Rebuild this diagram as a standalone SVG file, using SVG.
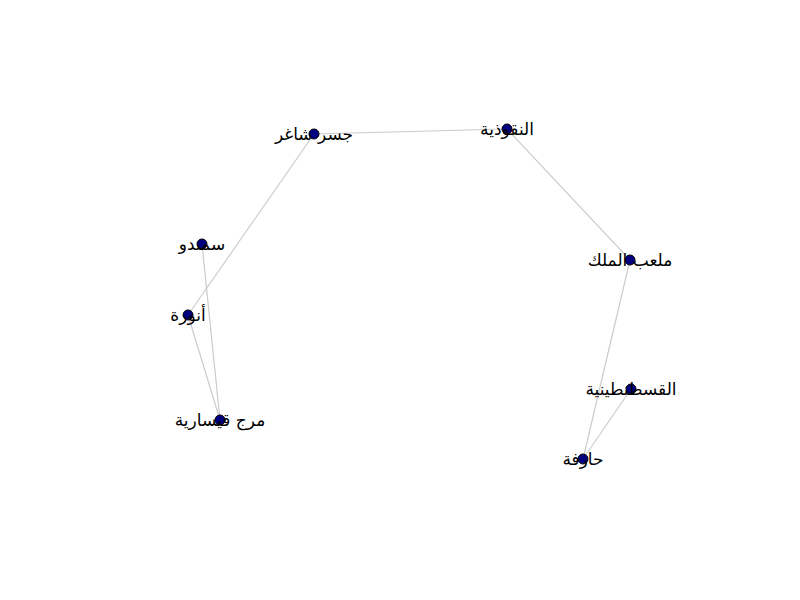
<svg xmlns="http://www.w3.org/2000/svg" width="800" height="600" viewBox="0 0 800 600">
<style>
.edge{stroke:#cccccc;stroke-width:1.2;fill:none}
.node circle{fill:#000080;stroke:#000000;stroke-width:1}
.node text{font-family:"DejaVu Sans","Noto Sans",sans-serif;font-size:17px;fill:#000000;text-anchor:middle;dominant-baseline:central}
</style>
<rect width="800" height="600" fill="#ffffff"/>
<g id="edges">
<line class="edge" x1="314" y1="134" x2="507" y2="129"/>
<line class="edge" x1="507" y1="129" x2="630" y2="260"/>
<line class="edge" x1="630" y1="260" x2="583" y2="459"/>
<line class="edge" x1="631" y1="389" x2="583" y2="459"/>
<line class="edge" x1="314" y1="134" x2="188" y2="315"/>
<line class="edge" x1="202" y1="244" x2="220" y2="420"/>
<line class="edge" x1="188" y1="315" x2="220" y2="420"/>
</g>
<g id="node-jisr" class="node"><circle cx="314" cy="134" r="5"/><text x="314" y="134">جسر شاغر</text></g>
<g id="node-naqudhiya" class="node"><circle cx="507" cy="129" r="5"/><text x="507" y="129">النقوذية</text></g>
<g id="node-malab" class="node"><circle cx="630" cy="260" r="5"/><text x="630" y="260">ملعب الملك</text></g>
<g id="node-qustantiniya" class="node"><circle cx="631" cy="389" r="5"/><text x="631" y="389">القسطنطينية</text></g>
<g id="node-harifa" class="node"><circle cx="583" cy="459" r="5"/><text x="583" y="459">حارفة</text></g>
<g id="node-samandu" class="node"><circle cx="202" cy="244" r="5"/><text x="202" y="244">سمندو</text></g>
<g id="node-anura" class="node"><circle cx="188" cy="315" r="5"/><text x="188" y="315">أنورة</text></g>
<g id="node-marj" class="node"><circle cx="220" cy="420" r="5"/><text x="220" y="420">مرج قيسارية</text></g>
</svg>
